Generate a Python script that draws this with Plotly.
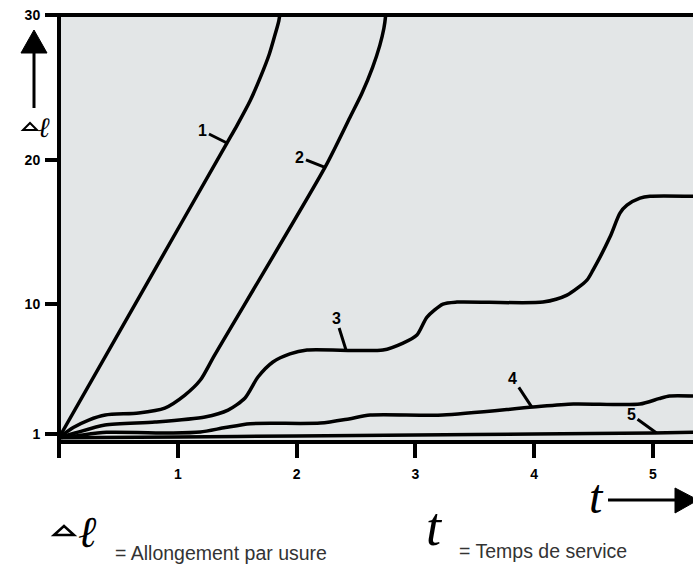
import plotly.graph_objects as go

# ---------------- data ----------------
x_ticks = [0, 1, 2, 3, 4, 5]
x_ticklabels = ["", "1", "2", "3", "4", "5"]
y_ticks = [1, 10, 20, 30]
y_ticklabels = ["1", "10", "20", "30"]

c1_t = [0, 0.70, 1.41, 1.50, 1.61, 1.70, 1.77, 1.82, 1.85, 1.865]
c1_l = [0.75, 10.85, 21.1, 22.4, 24.1, 25.8, 27.3, 28.7, 29.6, 30.4]

c2_t = [0, 0.12, 0.25, 0.39, 0.67, 0.89, 1.06, 1.19, 1.31, 2.24, 2.45, 2.55, 2.64, 2.70, 2.735, 2.75, 2.755]
c2_l = [0.75, 1.45, 1.97, 2.32, 2.46, 2.80, 3.70, 4.74, 6.47, 19.48, 22.94, 24.6, 26.4, 27.9, 29.1, 30.0, 30.6]

c3_t = [0, 0.135, 0.387, 0.808, 1.229, 1.423, 1.566, 1.675, 1.801, 1.944, 2.088, 2.727, 2.896,
        3.013, 3.098, 3.232, 3.350, 4.074, 4.276, 4.444, 4.495, 4.638, 4.722, 4.781, 4.891, 4.975, 5.337]
c3_l = [0.75, 1.07, 1.63, 1.83, 2.18, 2.66, 3.50, 4.95, 5.99, 6.55, 6.82, 6.82, 7.30,
        7.86, 9.10, 10.0, 10.14, 10.14, 10.62, 11.66, 12.35, 14.64, 16.30, 16.85, 17.34, 17.47, 17.47]

c4_t = [0, 0.135, 0.40, 0.96, 1.19, 1.40, 1.61, 2.20, 2.44, 2.62, 3.23, 3.99, 4.33, 4.89, 5.05, 5.14, 5.337]
c4_l = [0.75, 0.87, 1.12, 1.07, 1.14, 1.45, 1.72, 1.76, 2.05, 2.32, 2.32, 2.87, 3.08, 3.08, 3.45, 3.63, 3.63]

c5_t = [0, 1, 2, 3, 4, 5, 5.337]
c5_l = [0.75, 0.80, 0.87, 0.94, 1.00, 1.07, 1.12]

curve_names = ["1", "2", "3", "4", "5"]
curves = [(c1_t, c1_l), (c2_t, c2_l), (c3_t, c3_l), (c4_t, c4_l), (c5_t, c5_l)]
label_t = [1.414, 2.239, 2.416, 3.98, 5.03]   # where each label's leader touches its curve

# ---------------- layout geometry ----------------
W, H = 693, 565
L, R, T, B = 59, 0, 15, 565 - 442
PW, PH = W - L - R, H - T - B


def px(x):
    """page pixel x -> paper x"""
    return (x - L) / PW


def py(y):
    """page pixel y -> paper y"""
    return (H - B - y) / PH


def interp(x, xs, ys):
    for i in range(len(xs) - 1):
        if xs[i] <= x <= xs[i + 1]:
            f = (x - xs[i]) / (xs[i + 1] - xs[i])
            return ys[i] + f * (ys[i + 1] - ys[i])
    return ys[-1]


fig = go.Figure()
for name, (xs, ys) in zip(curve_names, curves):
    fig.add_trace(go.Scatter(
        x=xs, y=ys, mode="lines", name=name,
        line=dict(color="black", width=3.5, shape="spline", smoothing=0.7),
        hoverinfo="skip", showlegend=False, cliponaxis=True))

label_offsets = [(-24, -12), (-25, -10), (-10, -32), (-19, -29), (-25, -18)]
annotations = []
for name, (xs, ys), lt, (ax, ay) in zip(curve_names, curves, label_t, label_offsets):
    annotations.append(dict(
        x=lt, y=interp(lt, xs, ys), xref="x", yref="y", text="<b>%s</b>" % name,
        showarrow=True, arrowhead=0, arrowwidth=3, arrowcolor="black", standoff=0,
        ax=ax, ay=ay, font=dict(family="Liberation Sans, Arial", size=16, color="black")))

serif = "Liberation Serif, Times New Roman, serif"
sans = "Liberation Sans, Arial, sans-serif"
annotations += [
    # left axis symbol
    dict(x=px(44), y=py(128), xref="paper", yref="paper", text="<i>ℓ</i>", showarrow=False,
         font=dict(family="DejaVu Serif", size=28, color="black"), xanchor="center", yanchor="middle"),
    # legend symbols / text at bottom
    dict(x=px(87), y=py(531), xref="paper", yref="paper", text="<i>ℓ</i>", showarrow=False,
         font=dict(family="DejaVu Serif", size=44, color="black"), xanchor="center", yanchor="middle"),
    dict(x=px(113), y=py(553), xref="paper", yref="paper", text="= Allongement par usure",
         showarrow=False, font=dict(family=sans, size=19.5, color="#333333"),
         xanchor="left", yanchor="middle"),
    dict(x=px(434), y=py(527), xref="paper", yref="paper", text="<i>t</i>", showarrow=False,
         font=dict(family=serif, size=54, color="black"), xanchor="center", yanchor="middle"),
    dict(x=px(457), y=py(551), xref="paper", yref="paper", text="= Temps de service",
         showarrow=False, font=dict(family=sans, size=19.5, color="#333333"),
         xanchor="left", yanchor="middle"),
    dict(x=px(596), y=py(497), xref="paper", yref="paper", text="<i>t</i>", showarrow=False,
         font=dict(family=serif, size=48, color="black"), xanchor="center", yanchor="middle"),
]


def path(points):
    return "M " + " L ".join("%f,%f" % (px(a), py(b)) for a, b in points) + " Z"


def seg(x0, y0, x1, y1, w):
    return dict(type="line", xref="paper", yref="paper", x0=px(x0), x1=px(x1), y0=py(y0), y1=py(y1),
                line=dict(color="black", width=w), layer="above")


shapes = [
    # frame: left, top, bottom
    seg(59, 444, 59, 13, 4),
    seg(57, 15, 700, 15, 4),
    seg(57, 442, 700, 442, 4),
    # left vertical arrow
    seg(34, 108, 34, 50, 3),
    dict(type="path", xref="paper", yref="paper", path=path([(21, 53), (47, 53), (34, 30)]),
         fillcolor="black", line=dict(color="black", width=1)),
    # small triangle (delta) on the left
    dict(type="path", xref="paper", yref="paper", path=path([(23, 130), (37, 130), (30, 123)]),
         fillcolor="white", line=dict(color="black", width=2)),
    # bottom delta
    dict(type="path", xref="paper", yref="paper", path=path([(54, 535), (74, 535), (64, 526)]),
         fillcolor="white", line=dict(color="black", width=2.5)),
    # t arrow
    seg(608, 500, 678, 500, 3),
    dict(type="path", xref="paper", yref="paper", path=path([(675, 488), (675, 513), (698, 500)]),
         fillcolor="black", line=dict(color="black", width=1)),
]

axis_common = dict(showline=False, ticks="outside", tickwidth=3.5, tickcolor="black",
                   showgrid=False, zeroline=False,
                   tickfont=dict(family=sans, size=14, color="black", weight="bold"))

fig.update_layout(
    width=W, height=H, margin=dict(l=L, r=R, t=T, b=B, pad=0),
    paper_bgcolor="white", plot_bgcolor="#e3e6e7",
    xaxis=dict(range=[0, 5.337], tickvals=x_ticks, ticktext=x_ticklabels, ticklen=15,
               ticklabelstandoff=4, **axis_common),
    yaxis=dict(range=[0.45, 30.02], tickvals=y_ticks, ticktext=y_ticklabels, ticklen=13,
               ticklabelstandoff=2, **axis_common),
    annotations=annotations, shapes=shapes,
)

fig.write_html(
    "out.html",
    config={"displayModeBar": False},
    post_script="document.body.style.margin='0';document.body.style.overflow='hidden';",
)
